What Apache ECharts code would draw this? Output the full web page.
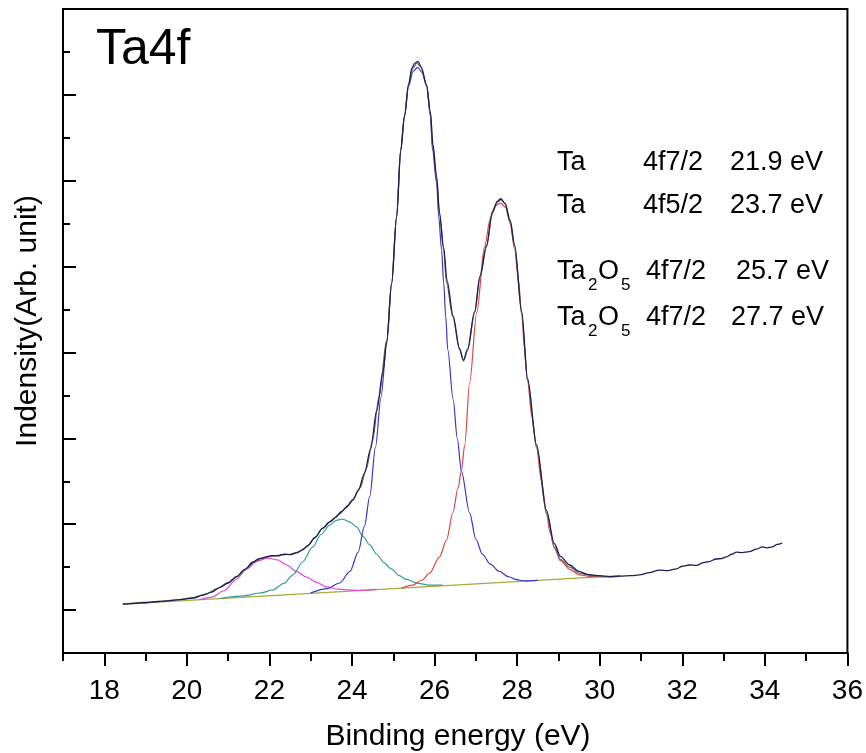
<!DOCTYPE html>
<html><head><meta charset="utf-8">
<script src="https://cdn.jsdelivr.net/npm/echarts@6/dist/echarts.min.js"></script>
<style>html,body{margin:0;padding:0;background:#fff}#c{width:866px;height:753px}</style>
</head><body><div id="c"></div>
<script>
// Axis ticks / labels
const xTickMajor = [18, 20, 22, 24, 26, 28, 30, 32, 34, 36];
const xTickMinor = [17, 19, 21, 23, 25, 27, 29, 31, 33, 35];
const yTickMajor = [1, 3, 5, 7, 9, 11, 13];
const yTickMinor = [2, 4, 6, 8, 10, 12, 14];

// Linear background
const baseline = [[18.45, 1.14], [30.5, 1.80]];

// Ta 4f7/2 (21.9 eV) component - magenta
const compTa72 = [[20.3,1.24],[20.6,1.30],[20.9,1.45],[21.2,1.72],[21.45,1.96],[21.7,2.14],[21.96,2.21],[22.2,2.17],[22.42,2.05],[22.65,1.90],[22.9,1.77],[23.15,1.64],[23.39,1.54],[23.65,1.49],[23.87,1.47],[24.2,1.46],[24.6,1.48]];

// Ta 4f5/2 (23.7 eV) component - teal
const compTa52 = [[20.8,1.27],[21.36,1.33],[21.8,1.40],[22.08,1.47],[22.35,1.62],[22.57,1.82],[22.8,2.12],[23.05,2.47],[23.25,2.76],[23.46,2.98],[23.62,3.09],[23.77,3.12],[23.95,3.05],[24.11,2.94],[24.26,2.72],[24.43,2.52],[24.6,2.30],[24.78,2.10],[24.95,1.96],[25.15,1.80],[25.3,1.72],[25.6,1.62],[25.9,1.58],[26.2,1.58]];

// Ta2O5 4f7/2 (25.7 eV) component - blue
const compOx1 = [[23.0,1.40],[23.4,1.50],[23.7,1.63],[23.95,1.90],[24.15,2.35],[24.3,2.95],[24.43,3.65],[24.57,4.80],[24.7,5.95],[24.84,7.20],[24.96,8.62],[25.08,10.16],[25.18,11.72],[25.27,12.49],[25.37,13.20],[25.48,13.55],[25.59,13.64],[25.70,13.52],[25.81,13.20],[25.90,12.49],[25.95,11.72],[26.05,10.95],[26.10,10.16],[26.17,9.39],[26.22,8.62],[26.27,7.83],[26.32,7.06],[26.45,5.9],[26.55,5.0],[26.65,4.23],[26.85,3.26],[27.0,2.65],[27.16,2.30],[27.35,2.07],[27.57,1.90],[27.78,1.78],[27.98,1.71],[28.2,1.68],[28.5,1.69]];

// Ta2O5 4f5/2 (27.7 eV) component - red
const compOx2 = [[25.2,1.51],[25.47,1.58],[25.7,1.70],[25.88,1.86],[26.12,2.24],[26.29,2.63],[26.44,3.26],[26.57,3.85],[26.65,4.25],[26.73,4.85],[26.85,6.30],[27.02,7.92],[27.21,9.46],[27.35,10.12],[27.48,10.42],[27.6,10.48],[27.72,10.38],[27.83,10.0],[27.94,9.40],[28.03,8.70],[28.11,7.88],[28.18,7.10],[28.25,6.33],[28.36,5.50],[28.47,4.78],[28.59,4.00],[28.71,3.24],[28.80,2.80],[28.90,2.45],[29.05,2.15],[29.27,1.95],[29.51,1.82],[29.8,1.78],[30.1,1.78]];

// Fitted envelope - gray
const envelope = [[18.45,1.14],[19.2,1.19],[19.8,1.24],[20.15,1.29],[20.45,1.37],[20.73,1.50],[21.0,1.64],[21.2,1.77],[21.45,1.97],[21.6,2.10],[21.8,2.20],[22.0,2.25],[22.25,2.28],[22.5,2.30],[22.7,2.35],[22.9,2.47],[23.1,2.68],[23.29,2.90],[23.5,3.08],[23.7,3.24],[23.85,3.38],[24.02,3.58],[24.2,3.85],[24.35,4.30],[24.5,4.96],[24.65,5.95],[24.84,7.29],[24.96,8.62],[25.08,10.16],[25.18,11.72],[25.27,12.50],[25.37,13.22],[25.48,13.62],[25.57,13.74],[25.66,13.66],[25.81,13.22],[25.90,12.55],[25.95,11.80],[26.05,11.05],[26.12,10.2],[26.22,9.39],[26.29,8.62],[26.44,7.83],[26.61,7.06],[26.70,6.80],[26.80,7.05],[26.97,7.92],[27.10,8.75],[27.26,9.46],[27.40,10.25],[27.52,10.50],[27.62,10.56],[27.72,10.45],[27.83,10.05],[27.94,9.46],[28.11,7.92],[28.25,6.36],[28.47,4.80],[28.71,3.26],[28.90,2.47],[29.05,2.18],[29.27,2.00],[29.51,1.86],[29.8,1.80],[30.23,1.77],[30.5,1.79]];

// Measured spectrum - dark navy
const measured = [[18.45,1.14],[18.7,1.15],[19.0,1.17],[19.3,1.20],[19.6,1.22],[19.9,1.25],[20.15,1.28],[20.4,1.35],[20.6,1.42],[20.8,1.53],[21.0,1.63],[21.2,1.78],[21.4,1.94],[21.6,2.12],[21.75,2.20],[21.9,2.23],[22.05,2.27],[22.2,2.26],[22.35,2.30],[22.5,2.29],[22.65,2.33],[22.8,2.40],[22.95,2.52],[23.1,2.69],[23.29,2.91],[23.45,3.05],[23.6,3.16],[23.75,3.30],[23.9,3.43],[24.02,3.56],[24.15,3.78],[24.3,4.18],[24.45,4.75],[24.6,5.65],[24.75,6.55],[24.84,7.25],[24.96,8.60],[25.08,10.15],[25.18,11.70],[25.27,12.50],[25.37,13.25],[25.45,13.62],[25.52,13.74],[25.6,13.78],[25.68,13.64],[25.8,13.25],[25.9,12.60],[25.96,11.85],[26.05,11.10],[26.12,10.25],[26.22,9.45],[26.3,8.68],[26.45,7.85],[26.6,7.10],[26.7,6.82],[26.8,7.08],[26.97,7.95],[27.1,8.78],[27.26,9.50],[27.4,10.28],[27.52,10.52],[27.6,10.58],[27.7,10.48],[27.83,10.08],[27.94,9.50],[28.11,7.95],[28.25,6.40],[28.47,4.85],[28.71,3.32],[28.9,2.55],[29.05,2.25],[29.27,2.05],[29.5,1.90],[29.7,1.83],[30.0,1.80],[30.23,1.78],[30.5,1.79],[30.75,1.80],[30.96,1.82],[31.2,1.87],[31.44,1.93],[31.65,1.92],[31.86,1.96],[32.0,2.02],[32.17,2.05],[32.35,2.04],[32.49,2.10],[32.65,2.13],[32.82,2.19],[32.95,2.20],[33.07,2.24],[33.2,2.30],[33.31,2.35],[33.45,2.34],[33.62,2.36],[33.8,2.42],[33.94,2.47],[34.05,2.45],[34.18,2.47],[34.3,2.53],[34.42,2.56]];

const FONT = '"Liberation Sans", Arial, sans-serif';
const chart = echarts.init(document.getElementById('c'), null, {renderer: 'canvas'});

function line(data, color, width, z) {
  return {type: 'line', data: data, showSymbol: false, symbol: 'none', smooth: 0.3, smoothMonotone: 'x',
          lineStyle: {color: color, width: width}, z: z, silent: true, animation: false};
}
function txt(text, x, y, size) {
  return {type: 'text', x: x, y: y, style: {text: text, x: 0, y: 0, fill: '#000', font: size + 'px ' + FONT,
          textAlign: 'left', textVerticalAlign: 'middle', align: 'left', verticalAlign: 'middle'}};
}

const graphics = [
  txt('Ta4f', 96, 50, 50),
  txt('Ta', 557, 163, 27), txt('4f7/2', 643, 163, 27), txt('21.9 eV', 730, 163, 27),
  txt('Ta', 557, 206, 27), txt('4f5/2', 643, 206, 27), txt('23.7 eV', 730, 206, 27),
  txt('Ta', 557, 272, 27), txt('2', 588, 285, 17), txt('O', 598, 272, 27), txt('5', 621, 285, 17),
  txt('4f7/2', 646, 272, 27), txt('25.7 eV', 736, 272, 27),
  txt('Ta', 557, 318, 27), txt('2', 588, 331, 17), txt('O', 598, 318, 27), txt('5', 621, 331, 17),
  txt('4f7/2', 646, 318, 27), txt('27.7 eV', 731, 318, 27),
  {type: 'text', x: 458, y: 737, style: {text: 'Binding energy (eV)', x: 0, y: 0, fill: '#000', font: '30px ' + FONT,
    textAlign: 'center', textVerticalAlign: 'middle', align: 'center', verticalAlign: 'middle'}},
  {type: 'text', x: 28, y: 321, rotation: Math.PI / 2, style: {text: 'Indensity(Arb. unit)', x: 0, y: 0, fill: '#000', font: '30px ' + FONT,
    textAlign: 'center', textVerticalAlign: 'middle', align: 'center', verticalAlign: 'middle'}}
];

const axisLineStyle = {show: true, lineStyle: {color: '#000', width: 2}};
chart.setOption({
  animation: false,
  backgroundColor: '#fff',
  grid: {left: 63, right: 18, top: 9, bottom: 100, show: true, borderColor: '#000', borderWidth: 2, backgroundColor: 'transparent'},
  xAxis: [
    {type: 'value', min: 17, max: 36, position: 'bottom', axisLine: axisLineStyle,
     axisTick: {show: true, length: 13, customValues: xTickMajor, lineStyle: {color: '#000', width: 2}},
     axisLabel: {show: true, customValues: xTickMajor, margin: 24, color: '#000', fontSize: 28,
       fontFamily: '"Liberation Sans Narrow", "Arial Narrow", "Liberation Sans", sans-serif'},
     splitLine: {show: false}},
    {type: 'value', min: 17, max: 36, position: 'bottom', axisLine: {show: false},
     axisTick: {show: true, length: 8, customValues: xTickMinor, lineStyle: {color: '#000', width: 2}},
     axisLabel: {show: false}, splitLine: {show: false}}
  ],
  yAxis: [
    {type: 'value', min: 0, max: 15, position: 'left', axisLine: axisLineStyle,
     axisTick: {show: true, inside: true, length: 13, customValues: yTickMajor, lineStyle: {color: '#000', width: 2}},
     axisLabel: {show: false}, splitLine: {show: false}},
    {type: 'value', min: 0, max: 15, position: 'left', axisLine: {show: false},
     axisTick: {show: true, inside: true, length: 7, customValues: yTickMinor, lineStyle: {color: '#000', width: 2}},
     axisLabel: {show: false}, splitLine: {show: false}}
  ],
  series: [
    line(baseline, '#a9a83a', 1.2, 2),
    line(compTa72, '#e048e0', 1.2, 3),
    line(compTa52, '#35a096', 1.2, 3),
    line(compOx1, '#3636c8', 1.2, 3),
    line(compOx2, '#e04545', 1.2, 3),
    line(envelope, '#6a6a6a', 1.2, 4),
    line(measured, '#1e1e50', 1.3, 5)
  ],
  graphic: graphics
});
</script></body></html>
